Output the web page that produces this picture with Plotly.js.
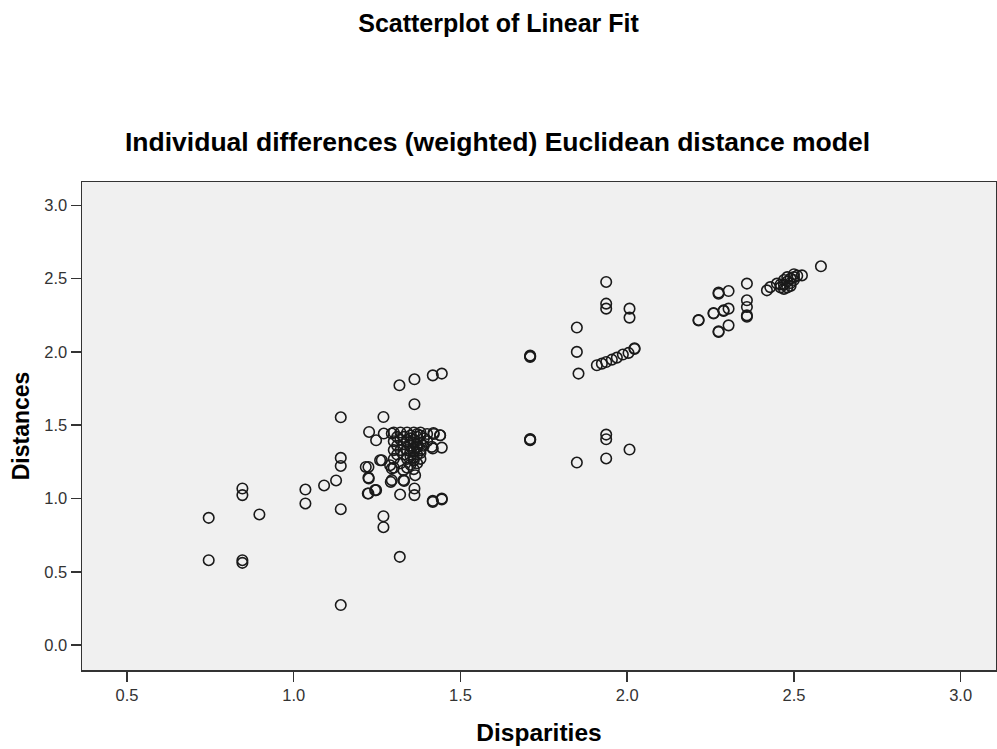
<!DOCTYPE html>
<html>
<head>
<meta charset="utf-8">
<script src="https://cdn.plot.ly/plotly-3.0.1.min.js"></script>
<style>html,body{margin:0;padding:0;background:#fff;}#chart{width:997px;height:749px;}</style>
</head>
<body>
<div id="chart"></div>
<script>
// Disparities (x) and Distances (y)
const disparities = [
  0.745,0.745,0.846,0.846,0.846,0.846,0.897,1.035,1.035,1.091,1.127,1.141,1.141,1.141,1.141,1.141,
  1.269,1.269,1.318,1.417,1.444,1.224,1.247,1.319,1.362,1.362,1.291,1.331,1.224,
  1.317,1.362,1.417,1.444,1.362,1.269,1.226,1.247,1.216,1.224,1.264,1.444,1.417,1.439,1.419,1.294,1.414,
  1.294,1.294,1.329,1.329,1.364,1.259,1.244,1.270,1.289,1.225,1.222,1.439,1.444,1.417,
  1.30,1.32,1.34,1.36,1.38,1.40,1.42,
  1.31,1.33,1.35,1.37,1.39,
  1.30,1.32,1.34,1.36,1.38,1.40,
  1.31,1.33,1.35,1.37,1.39,
  1.30,1.32,1.34,1.36,1.38,
  1.31,1.33,1.35,1.37,
  1.30,1.34,1.36,1.38,
  1.32,1.35,1.37,
  1.30,1.34,1.36,
  1.35,1.36,1.37,1.38,1.36,1.37,1.35,1.38,1.36,1.37,
  1.709,1.709,1.709,1.709,1.709,1.709,
  1.849,1.849,1.854,1.849,
  1.937,1.937,1.937,2.007,2.007,
  1.909,1.924,1.937,1.954,1.969,1.987,2.004,2.022,2.022,
  1.937,1.937,1.937,2.007,
  2.214,2.259,2.274,2.274,2.274,2.304,2.304,2.304,2.289,2.359,2.359,2.359,2.359,2.359,2.419,2.429,2.449,
  2.214,2.259,2.274,2.289,
  2.46,2.47,2.48,2.49,2.50,2.48,2.47,2.49,2.50,2.51,2.46,2.48,2.50,2.49,2.47,
  2.524,2.581
];
const distances = [
  0.868,0.579,1.068,1.023,0.579,0.561,0.891,1.061,0.966,1.089,1.123,0.927,0.273,1.554,1.277,1.222,
  0.879,0.804,0.602,0.984,0.993,1.034,1.057,1.027,1.068,1.023,1.113,1.120,1.143,
  1.772,1.813,1.840,1.852,1.643,1.556,1.454,1.397,1.215,1.215,1.261,1.347,1.341,1.431,1.447,1.443,1.352,
  1.204,1.125,1.125,1.193,1.159,1.261,1.057,1.443,1.227,1.136,1.034,1.431,1.000,0.977,
  1.45,1.45,1.45,1.45,1.45,1.44,1.44,
  1.42,1.42,1.43,1.42,1.41,
  1.39,1.40,1.39,1.40,1.38,1.39,
  1.36,1.37,1.36,1.35,1.36,
  1.33,1.33,1.33,1.32,1.33,
  1.30,1.30,1.29,1.30,
  1.27,1.27,1.26,1.27,
  1.24,1.23,1.24,
  1.21,1.21,1.20,
  1.41,1.38,1.35,1.31,1.28,1.44,1.32,1.43,1.34,1.37,
  1.970,1.975,1.965,1.402,1.405,1.398,
  2.166,2.000,1.852,1.245,
  2.477,2.329,2.295,2.295,2.234,
  1.909,1.920,1.931,1.947,1.961,1.982,1.993,2.020,2.025,
  1.436,1.404,1.273,1.334,
  2.215,2.265,2.136,2.397,2.405,2.415,2.295,2.181,2.283,2.466,2.352,2.306,2.249,2.240,2.420,2.442,2.466,
  2.218,2.262,2.140,2.280,
  2.44,2.46,2.48,2.50,2.51,2.51,2.49,2.47,2.49,2.52,2.46,2.44,2.53,2.45,2.43,
  2.522,2.584
];
const xTicks = [0.5, 1.0, 1.5, 2.0, 2.5, 3.0];
const yTicks = [0.0, 0.5, 1.0, 1.5, 2.0, 2.5, 3.0];
const xTickText = ['0.5','1.0','1.5','2.0','2.5','3.0'];
const yTickText = ['0.0','0.5','1.0','1.5','2.0','2.5','3.0'];

const FONT = 'Arial, "Liberation Sans", sans-serif';

const trace = {
  type: 'scatter', mode: 'markers',
  x: disparities, y: distances,
  marker: {symbol: 'circle-open', size: 10.5, color: '#1a1a1a', line: {width: 1.6, color: '#1a1a1a'}},
  hoverinfo: 'x+y', showlegend: false
};

const layout = {
  width: 997, height: 749,
  margin: {l: 82, r: 1, t: 182, b: 79},
  paper_bgcolor: '#ffffff', plot_bgcolor: '#f0f0f0',
  font: {family: FONT, color: '#222'},
  title: {text: '<b>Scatterplot of Linear Fit</b>', font: {family: FONT, size: 25, color: '#000'},
          xref: 'container', x: 0.5, xanchor: 'center', yref: 'container', y: 1 - 23/749, yanchor: 'middle'},
  annotations: [{
    text: '<b>Individual differences (weighted) Euclidean distance model</b>',
    xref: 'paper', yref: 'paper', x: (497.5-82)/914, y: (670-142)/488, xanchor: 'center', yanchor: 'middle',
    showarrow: false, font: {family: FONT, size: 26.5, color: '#000'}
  }],
  xaxis: {
    range: [0.365, 3.106], tickvals: xTicks, ticktext: xTickText,
    showgrid: false, zeroline: false, showline: true, mirror: true, linecolor: '#333', linewidth: 1.5,
    ticks: 'outside', ticklen: 10, tickwidth: 1.5, tickcolor: '#333',
    tickfont: {family: FONT, size: 16.5, color: '#333'},
    title: {text: '<b>Disparities</b>', font: {family: FONT, size: 24.5, color: '#000'}, standoff: 20}
  },
  yaxis: {
    range: [-0.170, 3.159], tickvals: yTicks, ticktext: yTickText,
    showgrid: false, zeroline: false, showline: true, mirror: true, linecolor: '#333', linewidth: 1.5,
    ticks: 'outside', ticklen: 10, tickwidth: 1.5, tickcolor: '#333',
    tickfont: {family: FONT, size: 16.5, color: '#333'},
    title: {text: '<b>Distances</b>', font: {family: FONT, size: 23, color: '#000'}, standoff: 8}
  }
};

Plotly.newPlot('chart', [trace], layout, {displayModeBar: false, staticPlot: true});
</script>
</body>
</html>
